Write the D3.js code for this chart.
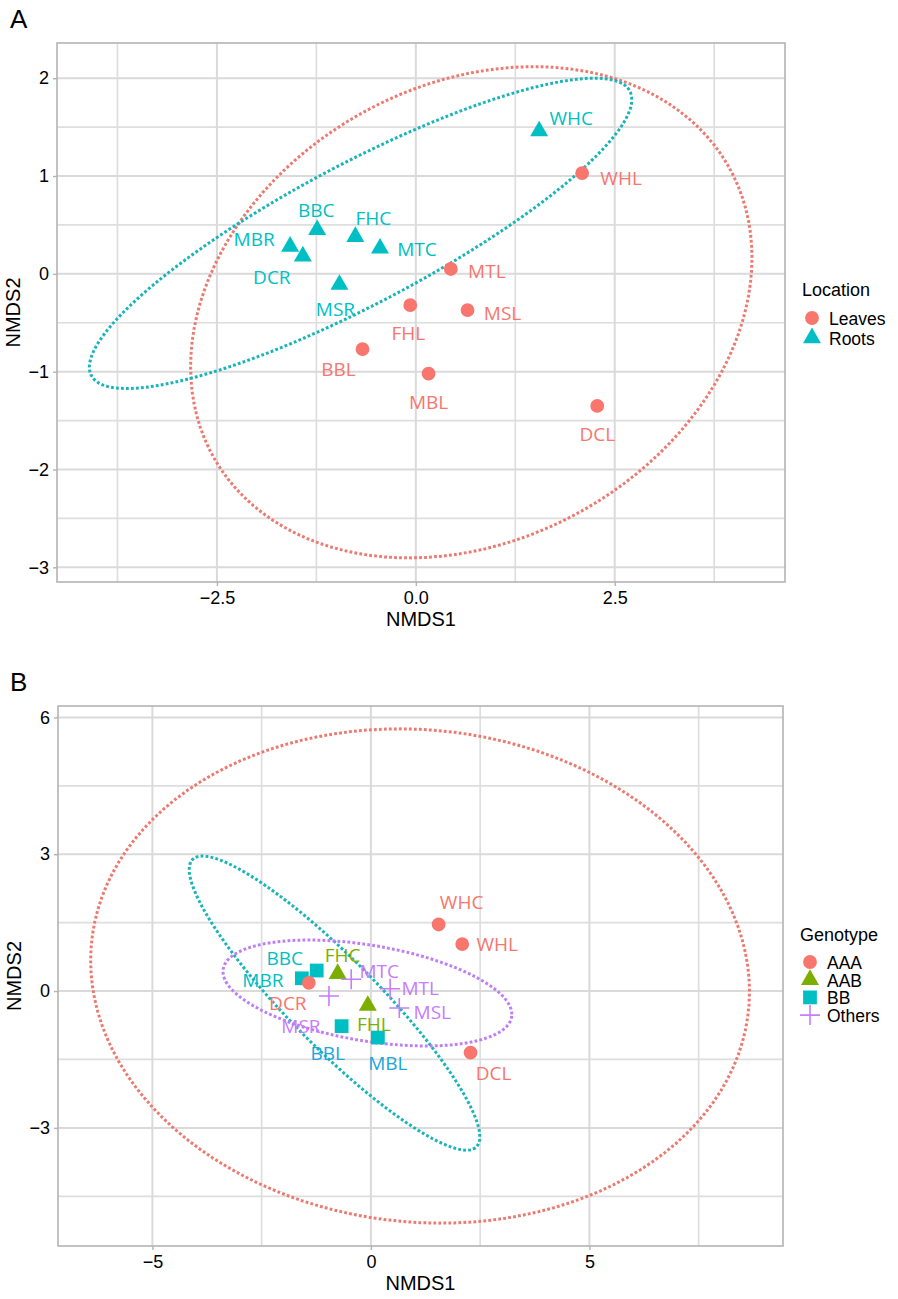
<!DOCTYPE html>
<html>
<head>
<meta charset="utf-8">
<script src="https://cdn.jsdelivr.net/npm/d3@7"></script>
<style>
  html, body { margin: 0; padding: 0; background: #fff; }
  svg { display: block; }
</style>
</head>
<body>
<svg id="chart" width="898" height="1299"></svg>
<script>
// ---------------- DATA ----------------
const samples  = ["WHC", "WHL", "MTL", "MSL", "FHL", "BBL", "MBL", "DCL", "BBC", "MBR", "DCR", "FHC", "MTC", "MSR"];
const nmds1    = [1.55, 2.09, 0.44, 0.65, -0.07, -0.67, 0.16, 2.28, -1.24, -1.58, -1.42, -0.76, -0.45, -0.96];
const nmds2    = [1.46, 1.03, 0.05, -0.37, -0.32, -0.77, -1.02, -1.35, 0.45, 0.28, 0.18, 0.38, 0.26, -0.11];
const sampleLocation = ["Roots", "Leaves", "Leaves", "Leaves", "Leaves", "Leaves", "Leaves", "Leaves", "Roots", "Roots", "Roots", "Roots", "Roots", "Roots"];
const sampleGenotype = ["AAA", "AAA", "Others", "Others", "AAB", "BB", "BB", "AAA", "BB", "BB", "AAA", "AAB", "Others", "Others"];

const locationLevels = ["Leaves", "Roots"];
const genotypeLevels = ["AAA", "AAB", "BB", "Others"];

const xTicksA = [-2.5, 0, 2.5];
const yTicksA = [-3, -2, -1, 0, 1, 2];
const xTicksB = [-5, 0, 5];
const yTicksB = [-3, 0, 3, 6];

// ---------------- LAYOUT (label nudges in px, not data) ----------------
const labelOffA = {
  WHC: [32, -13], WHL: [39, 5], MTL: [36, 2], MSL: [35, 3], FHL: [-2, 28], BBL: [-24, 20],
  MBL: [0, 28], DCL: [0, 28], BBC: [-1, -20], MBR: [-36, -7], DCR: [-31, 21], FHC: [18, -19],
  MTC: [37, 1], MSR: [-4, 24]
};
const labelOffB = {
  WHC: [23, -22], WHL: [35, 0], BBC: [-32, -13], FHC: [5, -19], MTC: [28, -8], MBR: [-39, 2],
  MTL: [30, -1], DCR: [-21, 20], MSL: [33, 4], FHL: [6, 18], MSR: [-28, 30], BBL: [-14, 27],
  MBL: [10, 25], DCL: [23, 20]
};

const colA = { Leaves: "#F8766D", Roots: "#00BFC4" };
const colB = { AAA: "#F8766D", AAB: "#7CAE00", BB: "#00BFC4", Others: "#C77CFF" };
const labelColB = { AAA: "#F8766D", AAB: "#7CAE00", BB: "#00BFC4", Others: "#C77CFF" };
const ellColA = { Leaves: "#EC7A70", Roots: "#17B5B9" };
const ellColB = { AAA: "#EC7A70", AAB: "#7CAE00", BB: "#17B5B9", Others: "#C07EF5" };

const svg = d3.select("#chart");
const tickFont = "'Liberation Sans', Arial, Helvetica, sans-serif";
const labFont = "'Open Sans', 'Lato', sans-serif";

const data = samples.map((s, i) => ({ s, x: nmds1[i], y: nmds2[i], loc: sampleLocation[i], gen: sampleGenotype[i] }));

// ellipse (ggplot2 stat_ellipse, type "norm", level 0.95)
function ellipse(pts) {
  const n = pts.length;
  if (n < 3) return null;
  const mx = d3.mean(pts, p => p.x), my = d3.mean(pts, p => p.y);
  let a = 0, b = 0, c = 0;
  pts.forEach(p => { a += (p.x - mx) ** 2; b += (p.x - mx) * (p.y - my); c += (p.y - my) ** 2; });
  a /= (n - 1); b /= (n - 1); c /= (n - 1);
  const d = n - 1;
  const fq = (d / 2) * (Math.pow(0.05, -2 / d) - 1); // F(0.95; 2, d)
  const r = Math.sqrt(2 * fq);
  const R11 = Math.sqrt(a), R12 = b / R11, R22 = Math.sqrt(c - R12 * R12);
  const out = [];
  const seg = 120;
  for (let k = 0; k <= seg; k++) {
    const t = 2 * Math.PI * k / seg;
    const u = Math.cos(t), v = Math.sin(t);
    out.push([mx + r * u * R11, my + r * (u * R12 + v * R22)]);
  }
  return out;
}

function shapePath(shape, size) {
  if (shape === "plus") {
    const h = size;
    return `M${-h},0L${h},0M0,${-h}L0,${h}`;
  }
  return d3.symbol().type(shape).size(size)();
}

function drawPanel(cfg) {
  const g = svg.append("g");
  const x = d3.scaleLinear().domain(cfg.xDom).range([cfg.left, cfg.right]);
  const y = d3.scaleLinear().domain(cfg.yDom).range([cfg.bottom, cfg.top]);

  g.append("rect").attr("x", cfg.left).attr("y", cfg.top)
    .attr("width", cfg.right - cfg.left).attr("height", cfg.bottom - cfg.top).attr("fill", "#fff");

  const minorX = [], minorY = [];
  for (let i = 0; i < cfg.xTicks.length - 1; i++) minorX.push((cfg.xTicks[i] + cfg.xTicks[i + 1]) / 2);
  const sx = cfg.xTicks[1] - cfg.xTicks[0];
  minorX.push(cfg.xTicks[0] - sx / 2, cfg.xTicks[cfg.xTicks.length - 1] + sx / 2);
  for (let i = 0; i < cfg.yTicks.length - 1; i++) minorY.push((cfg.yTicks[i] + cfg.yTicks[i + 1]) / 2);
  const sy = cfg.yTicks[1] - cfg.yTicks[0];
  minorY.push(cfg.yTicks[0] - sy / 2, cfg.yTicks[cfg.yTicks.length - 1] + sy / 2);

  const inX = v => v > cfg.xDom[0] && v < cfg.xDom[1];
  const inY = v => v > cfg.yDom[0] && v < cfg.yDom[1];

  g.selectAll(".mgx").data(minorX.filter(inX)).enter().append("line")
    .attr("x1", d => x(d)).attr("x2", d => x(d)).attr("y1", cfg.top).attr("y2", cfg.bottom)
    .attr("stroke", "#dedede").attr("stroke-width", 1.7);
  g.selectAll(".mgy").data(minorY.filter(inY)).enter().append("line")
    .attr("y1", d => y(d)).attr("y2", d => y(d)).attr("x1", cfg.left).attr("x2", cfg.right)
    .attr("stroke", "#dedede").attr("stroke-width", 1.7);
  g.selectAll(".gx").data(cfg.xTicks).enter().append("line")
    .attr("x1", d => x(d)).attr("x2", d => x(d)).attr("y1", cfg.top).attr("y2", cfg.bottom)
    .attr("stroke", "#dadada").attr("stroke-width", 2);
  g.selectAll(".gy").data(cfg.yTicks).enter().append("line")
    .attr("y1", d => y(d)).attr("y2", d => y(d)).attr("x1", cfg.left).attr("x2", cfg.right)
    .attr("stroke", "#dadada").attr("stroke-width", 2);

  g.append("rect").attr("x", cfg.left).attr("y", cfg.top)
    .attr("width", cfg.right - cfg.left).attr("height", cfg.bottom - cfg.top)
    .attr("fill", "none").attr("stroke", "#b3b3b3").attr("stroke-width", 1.6);

  const xAxis = d3.axisBottom(x).tickValues(cfg.xTicks).tickSize(4).tickPadding(5)
    .tickFormat(cfg.xFmt);
  const ax = g.append("g").attr("transform", `translate(0,${cfg.bottom})`).call(xAxis);
  const yAxis = d3.axisLeft(y).tickValues(cfg.yTicks).tickSize(4).tickPadding(4)
    .tickFormat(cfg.yFmt);
  const ay = g.append("g").attr("transform", `translate(${cfg.left},0)`).call(yAxis);
  [ax, ay].forEach(a => {
    a.select(".domain").remove();
    a.selectAll(".tick line").attr("stroke", "#b3b3b3").attr("stroke-width", 1.4);
    a.selectAll(".tick text").attr("fill", "#000").style("font-family", tickFont).style("font-size", "18px");
  });

  g.append("text").attr("x", (cfg.left + cfg.right) / 2).attr("y", cfg.bottom + 44)
    .attr("text-anchor", "middle").style("font-family", tickFont).style("font-size", "20px")
    .attr("fill", "#000").text("NMDS1");
  g.append("text").attr("transform", `translate(${cfg.left - 37},${(cfg.top + cfg.bottom) / 2}) rotate(-90)`)
    .attr("text-anchor", "middle").style("font-family", tickFont).style("font-size", "20px")
    .attr("fill", "#000").text("NMDS2");

  g.append("text").attr("x", 10).attr("y", cfg.top - 15).style("font-family", tickFont)
    .style("font-size", "26px").attr("fill", "#000").text(cfg.tag);

  const line = d3.line().x(d => x(d[0])).y(d => y(d[1]));
  cfg.groups.forEach(gr => {
    const pts = data.filter(d => cfg.groupOf(d) === gr);
    const e = ellipse(pts);
    if (!e) return;
    g.append("path").attr("d", line(e)).attr("fill", "none")
      .attr("stroke", cfg.ellCol[gr]).attr("stroke-width", 3)
      .attr("stroke-dasharray", "2.8,2.2");
  });

  data.forEach(d => {
    const gr = cfg.groupOf(d);
    const shp = cfg.shape[gr];
    const p = g.append("path").attr("transform", `translate(${x(d.x)},${y(d.y)})`)
      .attr("d", shapePath(shp.type, shp.size));
    if (shp.type === "plus") p.attr("fill", "none").attr("stroke", cfg.col[gr]).attr("stroke-width", 1.6);
    else p.attr("fill", cfg.col[gr]);
  });

  data.forEach(d => {
    const gr = cfg.groupOf(d);
    const off = cfg.labelOff[d.s];
    g.append("text").attr("x", x(d.x) + off[0]).attr("y", y(d.y) + off[1])
      .attr("text-anchor", "middle").attr("dominant-baseline", "central")
      .style("font-family", labFont).style("font-size", "19px")
      .attr("fill", cfg.labelCol(d, gr)).text(d.s);
  });

  const lg = g.append("g");
  lg.append("text").attr("x", cfg.legX).attr("y", cfg.legY).style("font-family", tickFont)
    .style("font-size", "18px").attr("fill", "#000").text(cfg.legTitle);
  cfg.groups.forEach((gr, i) => {
    const ky = cfg.legY + cfg.legFirst + i * cfg.legStep;
    const shp = cfg.shape[gr];
    const p = lg.append("path").attr("transform", `translate(${cfg.legX + 10},${ky})`)
      .attr("d", shapePath(shp.type, shp.size));
    if (shp.type === "plus") p.attr("fill", "none").attr("stroke", cfg.col[gr]).attr("stroke-width", 1.6);
    else p.attr("fill", cfg.col[gr]);
    lg.append("text").attr("x", cfg.legX + 27).attr("y", ky + 1).attr("dominant-baseline", "central")
      .style("font-family", tickFont).style("font-size", "17.5px").attr("fill", "#000").text(gr);
  });
}

const fmtA = d => d === 0 ? "0.0" : d3.format(".1f")(d).replace("-", "\u2212");
const fmtInt = d => String(d).replace("-", "\u2212");

drawPanel({
  tag: "A",
  left: 57, right: 785, top: 43, bottom: 582,
  xDom: [-4.51, 4.64], yDom: [-3.15, 2.36],
  xTicks: xTicksA, yTicks: yTicksA,
  xFmt: fmtA, yFmt: fmtInt,
  groups: locationLevels,
  groupOf: d => d.loc,
  col: colA, ellCol: ellColA,
  shape: { Leaves: { type: d3.symbolCircle, size: 150 }, Roots: { type: d3.symbolTriangle, size: 140 } },
  labelOff: labelOffA,
  labelCol: (d, gr) => colA[gr],
  legTitle: "Location", legX: 802, legY: 296, legFirst: 22, legStep: 20
});

drawPanel({
  tag: "B",
  left: 58, right: 783, top: 706, bottom: 1246,
  xDom: [-7.16, 9.43], yDom: [-5.59, 6.25],
  xTicks: xTicksB, yTicks: yTicksB,
  xFmt: fmtInt, yFmt: fmtInt,
  groups: genotypeLevels,
  groupOf: d => d.gen,
  col: colB, ellCol: ellColB,
  shape: {
    AAA: { type: d3.symbolCircle, size: 150 }, AAB: { type: d3.symbolTriangle, size: 140 },
    BB: { type: d3.symbolSquare, size: 190 }, Others: { type: "plus", size: 10 }
  },
  labelOff: labelOffB,
  labelCol: (d, gr) => (d.s === "BBL" || d.s === "MBL") ? "#1CA6DC" : labelColB[gr],
  legTitle: "Genotype", legX: 800, legY: 941, legFirst: 21, legStep: 17.7
});
</script>
</body>
</html>
